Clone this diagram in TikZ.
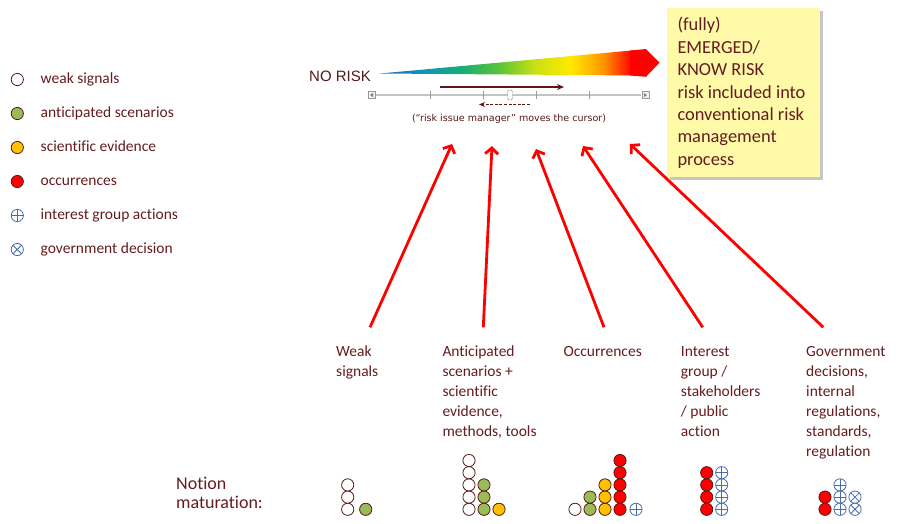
\documentclass[tikz,border=0pt]{standalone}
\usepackage{fontspec}
\setmainfont{Carlito}[Ligatures=CommonOff]
\newfontfamily\arialfont{Liberation Sans}
\newfontfamily\notefont{DejaVu Sans}
\usetikzlibrary{arrows.meta,shadows}

\definecolor{maroontext}{RGB}{100,28,30}
\definecolor{dotline}{RGB}{85,25,25}
\definecolor{dotgreen}{RGB}{155,187,89}
\definecolor{dotyellow}{RGB}{255,192,0}
\definecolor{dotred}{RGB}{255,0,0}
\definecolor{crossblue}{RGB}{70,110,170}
\definecolor{notefill}{RGB}{255,250,168}
\definecolor{slidergrey}{RGB}{195,195,195}
\definecolor{cursorarrow}{RGB}{95,22,22}

% colour scale of the risk wedge (blue -> red)
\pgfdeclarehorizontalshading{riskscale}{100bp}{%
  rgb(0bp)=(0.15,0.40,0.72);
  rgb(25bp)=(0.15,0.40,0.72);
  rgb(33bp)=(0.05,0.58,0.75);
  rgb(41bp)=(0.10,0.68,0.45);
  rgb(48bp)=(0.35,0.76,0.22);
  rgb(55bp)=(0.78,0.88,0.08);
  rgb(62bp)=(1.0,0.92,0.0);
  rgb(68.5bp)=(1.0,0.58,0.0);
  rgb(73.6bp)=(1.0,0.05,0.0);
  rgb(100bp)=(1.0,0.0,0.0)}

\newcommand{\labeltext}[1]{\begin{tabular}[t]{@{}l@{}}#1\end{tabular}}

\tikzset{
  dotbase/.style={circle, draw=dotline, line width=0.8pt, minimum size=12.2pt, inner sep=0pt},
  wdot/.style={dotbase, fill=white},
  gdot/.style={dotbase, fill=dotgreen},
  ydot/.style={dotbase, fill=dotyellow},
  rdot/.style={dotbase, fill=dotred},
  pdot/.style={circle, draw=crossblue, line width=0.8pt, minimum size=12.2pt, inner sep=0pt, fill=white,
    path picture={\draw[crossblue, line width=0.8pt]
      (path picture bounding box.north) -- (path picture bounding box.south)
      (path picture bounding box.west) -- (path picture bounding box.east);}},
  xdot/.style={circle, draw=crossblue, line width=0.8pt, minimum size=12.2pt, inner sep=0pt, fill=white,
    path picture={\draw[crossblue, line width=0.8pt]
      (path picture bounding box.north west) -- (path picture bounding box.south east)
      (path picture bounding box.south west) -- (path picture bounding box.north east);}},
  legendtext/.style={anchor=base west, inner sep=0pt, text=maroontext, font=\fontsize{15.5}{19}\selectfont},
  stagetext/.style={anchor=base west, inner sep=0pt, text=maroontext, font=\fontsize{15.5}{20}\selectfont},
  redarrow/.style={draw=dotred, line width=2.8pt, -{Straight Barb[length=6pt,width=13pt]}},
  notebox/.style={draw=none, fill=notefill, inner sep=0pt, minimum width=153pt, minimum height=169pt,
    drop shadow={shadow xshift=2.5pt, shadow yshift=-2.5pt, fill=black!45, opacity=0.5}},
}

\begin{document}
\begin{tikzpicture}[x=1pt, y=-1pt]
\useasboundingbox (0,0) rectangle (898,523);

% ---------- legend ----------
\node[wdot] (lw) at (17.3,79.5) {};
\node[gdot] (lg) at (17.3,113.5) {};
\node[ydot] (ly) at (17.3,147.5) {};
\node[rdot] (lr) at (17.3,181.5) {};
\node[pdot] (lp) at (17.3,215.5) {};
\node[xdot] (lx) at (17.3,249.5) {};
\node[legendtext] (tw) at (40.5,83.3) {weak signals};
\node[legendtext] (tg) at (40.5,117.3) {anticipated scenarios};
\node[legendtext] (ty) at (40.5,151.3) {scientific evidence};
\node[legendtext] (tr) at (40.5,185.3) {occurrences};
\node[legendtext] (tp) at (40.5,219.3) {interest group actions};
\node[legendtext] (tx) at (40.5,253.3) {government decision};

% ---------- risk scale ----------
\node[anchor=base west, inner sep=0pt, text=dotline, font=\arialfont\fontsize{15}{18}\selectfont] (norisk) at (309,81.7) {NO RISK};
\shade[shading=riskscale] (380,73.5) -- (637,50) -- (637,75.5) -- cycle;
\fill[dotred] (630,50.6) -- (646,49) -- (659.5,62.7) -- (646,76.8) -- (630,75.5) -- cycle;

% slider bar
\draw[slidergrey, line width=1.8pt] (376,95) -- (641,95);
\foreach \tx in {430,483,536,589}
  \draw[slidergrey!80!black, line width=0.5pt] (\tx,91) -- (\tx,99);
\node[draw=gray!80, fill=gray!12, minimum size=7pt, inner sep=0pt] (sbleft) at (371.5,95) {};
\fill[gray] (373,93) -- (370,95) -- (373,97) -- cycle;
\node[draw=gray!80, fill=gray!12, minimum size=7pt, inner sep=0pt] (sbright) at (645.5,95) {};
\fill[gray] (644,93) -- (647,95) -- (644,97) -- cycle;
\node[draw=gray!90, fill=white, rounded corners=1.5pt, minimum width=5pt, minimum height=10pt, inner sep=0pt] (thumb) at (510,95) {};

% cursor movement arrows
\coordinate (fwdA) at (440,87);
\coordinate (fwdB) at (564,87);
\coordinate (backA) at (530,104.5);
\coordinate (backB) at (479,104.5);
\draw[cursorarrow, line width=1.5pt, -{Stealth[length=7pt,width=6pt]}] (fwdA) -- (fwdB);
\draw[cursorarrow, line width=1.2pt, dash pattern=on 3pt off 1.6pt, -{Stealth[length=6pt,width=5pt]}] (backA) -- (backB);
\node[anchor=base, inner sep=0pt, text=dotline] (cursornote) at (509,121.7)
  {\resizebox{194pt}{!}{\notefont\fontsize{9}{10}\selectfont (“risk issue manager” moves the cursor)}};

% ---------- note box ----------
\node[notebox] (note) at (743.5,92.5) {};
\node[anchor=base west, inner sep=0pt, text=maroontext, font=\fontsize{18.4}{22.4}\selectfont] (notetext) at (677.3,30.9)
  {\labeltext{(fully)\\EMERGED/\\KNOW RISK\\risk included into\\conventional risk\\management\\process}};

% ---------- stages ----------
\node[stagetext] (st1) at (336,356) {\labeltext{Weak\\signals}};
\node[stagetext] (st2) at (442.3,356) {\labeltext{Anticipated\\scenarios +\\scientific\\evidence,\\methods, tools}};
\node[stagetext] (st3) at (563.3,356) {\labeltext{Occurrences}};
\node[stagetext] (st4) at (680.7,356) {\labeltext{Interest\\group /\\stakeholders\\/ public\\action}};
\node[stagetext] (st5) at (806,356) {\labeltext{Government\\decisions,\\internal\\regulations,\\standards,\\regulation}};

% arrows from each stage up to the scale
\coordinate (s1) at (370,327.3);  \coordinate (t1) at (452,144);
\coordinate (s2) at (483.3,327.3);\coordinate (t2) at (492,146);
\coordinate (s3) at (604,327.3);  \coordinate (t3) at (536,149);
\coordinate (s4) at (702.7,327.3);\coordinate (t4) at (583,146);
\coordinate (s5) at (823.3,327.3);\coordinate (t5) at (630,144);
\draw[redarrow] (s1) -- (t1);
\draw[redarrow] (s2) -- (t2);
\draw[redarrow] (s3) -- (t3);
\draw[redarrow] (s4) -- (t4);
\draw[redarrow] (s5) -- (t5);

% ---------- notion maturation ----------
\node[anchor=base west, inner sep=0pt, text=maroontext, font=\fontsize{18}{19}\selectfont] (notion) at (176,489.3)
  {\labeltext{Notion\\maturation:}};

% stacks of dots: column x, count, style, name prefix
\newcommand{\dotstack}[4]{%
  \foreach \k in {1,...,#2}
    \node[#3] (#4\k) at (#1,{509.3-12.2*(\k-1)}) {};}
% stage 1
\dotstack{347.7}{3}{wdot}{aw}
\dotstack{365.7}{1}{gdot}{ag}
% stage 2
\dotstack{469}{5}{wdot}{bw}
\dotstack{484}{3}{gdot}{bg}
\dotstack{499}{1}{ydot}{by}
% stage 3
\dotstack{575}{1}{wdot}{cw}
\dotstack{590}{2}{gdot}{cg}
\dotstack{605}{3}{ydot}{cy}
\dotstack{620}{5}{rdot}{cr}
\dotstack{636}{1}{pdot}{cp}
% stage 4
\dotstack{706.7}{4}{rdot}{dr}
\dotstack{721.7}{4}{pdot}{dp}
% stage 5
\dotstack{825}{2}{rdot}{er}
\dotstack{840}{3}{pdot}{ep}
\dotstack{855}{2}{xdot}{ex}

\end{tikzpicture}
\end{document}
